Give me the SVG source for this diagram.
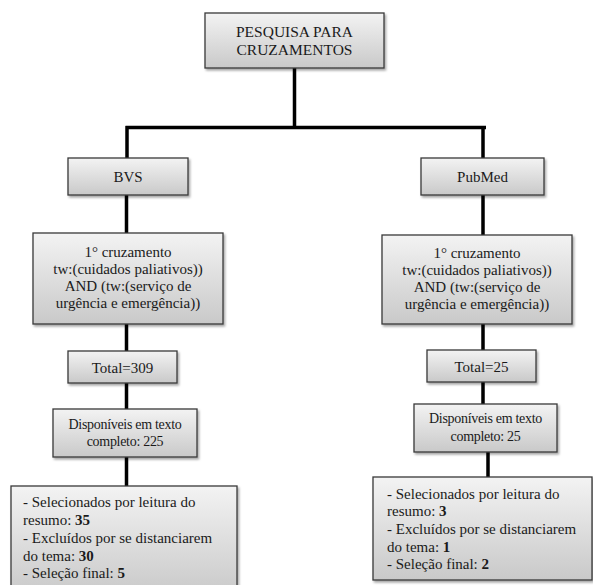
<svg xmlns="http://www.w3.org/2000/svg" width="593" height="585" viewBox="0 0 593 585" font-family="Times New Roman, Liberation Serif, DejaVu Serif, serif">
  <defs>
    <linearGradient id="g" x1="0" y1="0" x2="0" y2="1">
      <stop offset="0" stop-color="#f3f3f3"/>
      <stop offset="1" stop-color="#c9c9c9"/>
    </linearGradient>
    <filter id="sh" x="-10%" y="-10%" width="130%" height="140%">
      <feDropShadow dx="1.5" dy="2" stdDeviation="1.2" flood-color="#000" flood-opacity="0.35"/>
    </filter>
    <style>
      .box { fill: url(#g); stroke: #3a3a3a; stroke-width: 1.3; filter: url(#sh); }
      text { font-size: 15px; fill: #1a1a1a; }
      .c { text-anchor: middle; }
      .s { font-size: 14px; letter-spacing: -0.3px; }
      .conn { stroke: #000; stroke-width: 3.5; fill: none; }
    </style>
  </defs>
  <rect width="593" height="585" fill="#fff"/>

  <g id="connectors">
    <path class="conn" d="M294.5 68 V127.5 M125.5 127.5 H486 M127 126 V158 M483 126 V158"/>
    <path class="conn" d="M126.5 195 V233 M126.5 324 V351 M126.5 383 V409 M126.5 457 V486"/>
    <path class="conn" d="M483 195 V235 M483 324 V350 M483 382 V404 M488 452 V477"/>
  </g>

  <g id="n-top">
    <rect class="box" x="205" y="13" width="179" height="55"/>
    <text class="c" x="294.5" y="37" style="font-size:15.5px">PESQUISA PARA</text>
    <text class="c" x="294.5" y="55" style="font-size:15.5px">CRUZAMENTOS</text>
  </g>

  <g id="n-bvs">
    <rect class="box" x="68" y="158" width="120" height="37"/>
    <text class="c" x="128" y="182">BVS</text>
  </g>
  <g id="n-pubmed">
    <rect class="box" x="421" y="158" width="123" height="37"/>
    <text class="c" x="482.5" y="182">PubMed</text>
  </g>

  <g id="n-cruz-l">
    <rect class="box" x="33" y="233" width="190" height="91"/>
    <text class="c" x="128" y="257">1° cruzamento</text>
    <text class="c" x="128" y="274">tw:(cuidados paliativos))</text>
    <text class="c" x="128" y="291">AND (tw:(serviço de</text>
    <text class="c" x="128" y="308">urgência e emergência))</text>
  </g>
  <g id="n-cruz-r">
    <rect class="box" x="382" y="235" width="190" height="89"/>
    <text class="c" x="477" y="258">1° cruzamento</text>
    <text class="c" x="477" y="275">tw:(cuidados paliativos))</text>
    <text class="c" x="477" y="292">AND (tw:(serviço de</text>
    <text class="c" x="477" y="309">urgência e emergência))</text>
  </g>

  <g id="n-total-l">
    <rect class="box" x="68" y="351" width="109" height="32"/>
    <text class="c" x="122.5" y="373">Total=309</text>
  </g>
  <g id="n-total-r">
    <rect class="box" x="427" y="350" width="109" height="32"/>
    <text class="c" x="481.5" y="372">Total=25</text>
  </g>

  <g id="n-disp-l">
    <rect class="box" x="53" y="409" width="144" height="48"/>
    <text class="c s" x="125" y="429">Disponíveis em texto</text>
    <text class="c s" x="125" y="446">completo: 225</text>
  </g>
  <g id="n-disp-r">
    <rect class="box" x="414" y="404" width="143" height="48"/>
    <text class="c s" x="485.5" y="423">Disponíveis em texto</text>
    <text class="c s" x="485.5" y="441">completo: 25</text>
  </g>

  <g id="n-sel-l">
    <rect class="box" x="11" y="486" width="226" height="110"/>
    <text x="23" y="507">- Selecionados  por leitura  do</text>
    <text x="23" y="525">resumo: <tspan font-weight="bold">35</tspan></text>
    <text x="23" y="543">- Excluídos  por se distanciarem</text>
    <text x="23" y="561">do tema: <tspan font-weight="bold">30</tspan></text>
    <text x="23" y="578">- Seleção final: <tspan font-weight="bold">5</tspan></text>
  </g>
  <g id="n-sel-r">
    <rect class="box" x="373" y="477" width="219" height="103"/>
    <text x="387" y="499">- Selecionados  por leitura  do</text>
    <text x="387" y="516">resumo: <tspan font-weight="bold">3</tspan></text>
    <text x="387" y="534">- Excluídos  por se distanciarem</text>
    <text x="387" y="552">do tema: <tspan font-weight="bold">1</tspan></text>
    <text x="387" y="569">- Seleção final: <tspan font-weight="bold">2</tspan></text>
  </g>
</svg>
